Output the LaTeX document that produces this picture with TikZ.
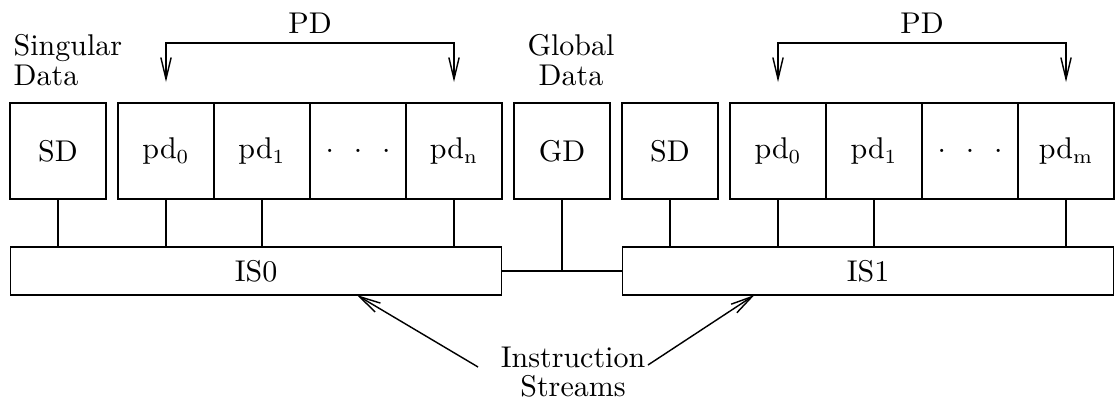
\documentclass[tikz,border=0pt]{standalone}
\usetikzlibrary{positioning,calc,arrows.meta}

\tikzset{
    cell/.style={draw, outer sep=0pt, inner sep=0pt, minimum width=33.6pt, minimum height=33.6pt},
    stream/.style={draw, outer sep=0pt, inner sep=0pt, minimum width=172pt, minimum height=16.8pt},
    lbl/.style={inner sep=0pt, align=center},
    barb/.style={-{Straight Barb[length=7.5pt,width=3.6pt]}},
    fanout/.style={{Straight Barb[length=7.5pt,width=3.6pt]}-{Straight Barb[length=7.5pt,width=3.6pt]}},
}

\begin{document}
\begin{tikzpicture}[x=0.35pt,y=-0.35pt,line width=0.5pt,font=\fontsize{10.5}{10.2}\selectfont]
    \useasboundingbox (0,0) rectangle (1118,403);
    % one processor per pass: SD, the pd cells, its stream bar
    \foreach \k/\dx/\nm in {0/0/n,1/612/m}{
        \node[cell] (sd\k) at (58+\dx,151) {SD};
        \foreach \i/\t in {0/pd$_0$,1/pd$_1$,2/{.\ \ .\ \ .},3/pd$_{\mathrm{\nm}}$}{
            \node[cell] (pd\k\i) at (166+96*\i+\dx,151) {\t};
        }
        \node[stream] (is\k) at (256+\dx,271) {IS\k};
        \node[lbl] (pdl\k) at (310+\dx,23) {PD};
        \draw[fanout] ([yshift=7.35pt]pd\k0.north) -- ++(0,-39) -| ([yshift=7.35pt]pd\k3.north);
        \foreach \n in {sd\k,pd\k0,pd\k1,pd\k3}{
            \draw (\n.south) -- (\n.south |- is\k.north);
        }
    }
    \node[lbl, anchor=north west, align=left] (sdl) at (13,34) {Singular\\Data};

    % shared data between the two streams
    \node[cell] (gd) at (562,151) {GD};
    \node[lbl, anchor=north] (gdl) at (571,34) {Global\\Data};
    \draw (is0.east) -- (is1.west);
    \draw (gd.south) -- (gd.south |- is0.east);

    \node[lbl, anchor=north] (ins) at (573,346) {Instruction\\Streams};
    \coordinate (inl) at ($(ins.north west)+(-22,21)$);
    \coordinate (inr) at ($(ins.north east)+(2,19)$);
    \draw[barb] (inl) -- ($(is0.south west)!0.705!(is0.south east)$);
    \draw[barb] (inr) -- ($(is1.south west)!0.269!(is1.south east)$);
\end{tikzpicture}
\end{document}
